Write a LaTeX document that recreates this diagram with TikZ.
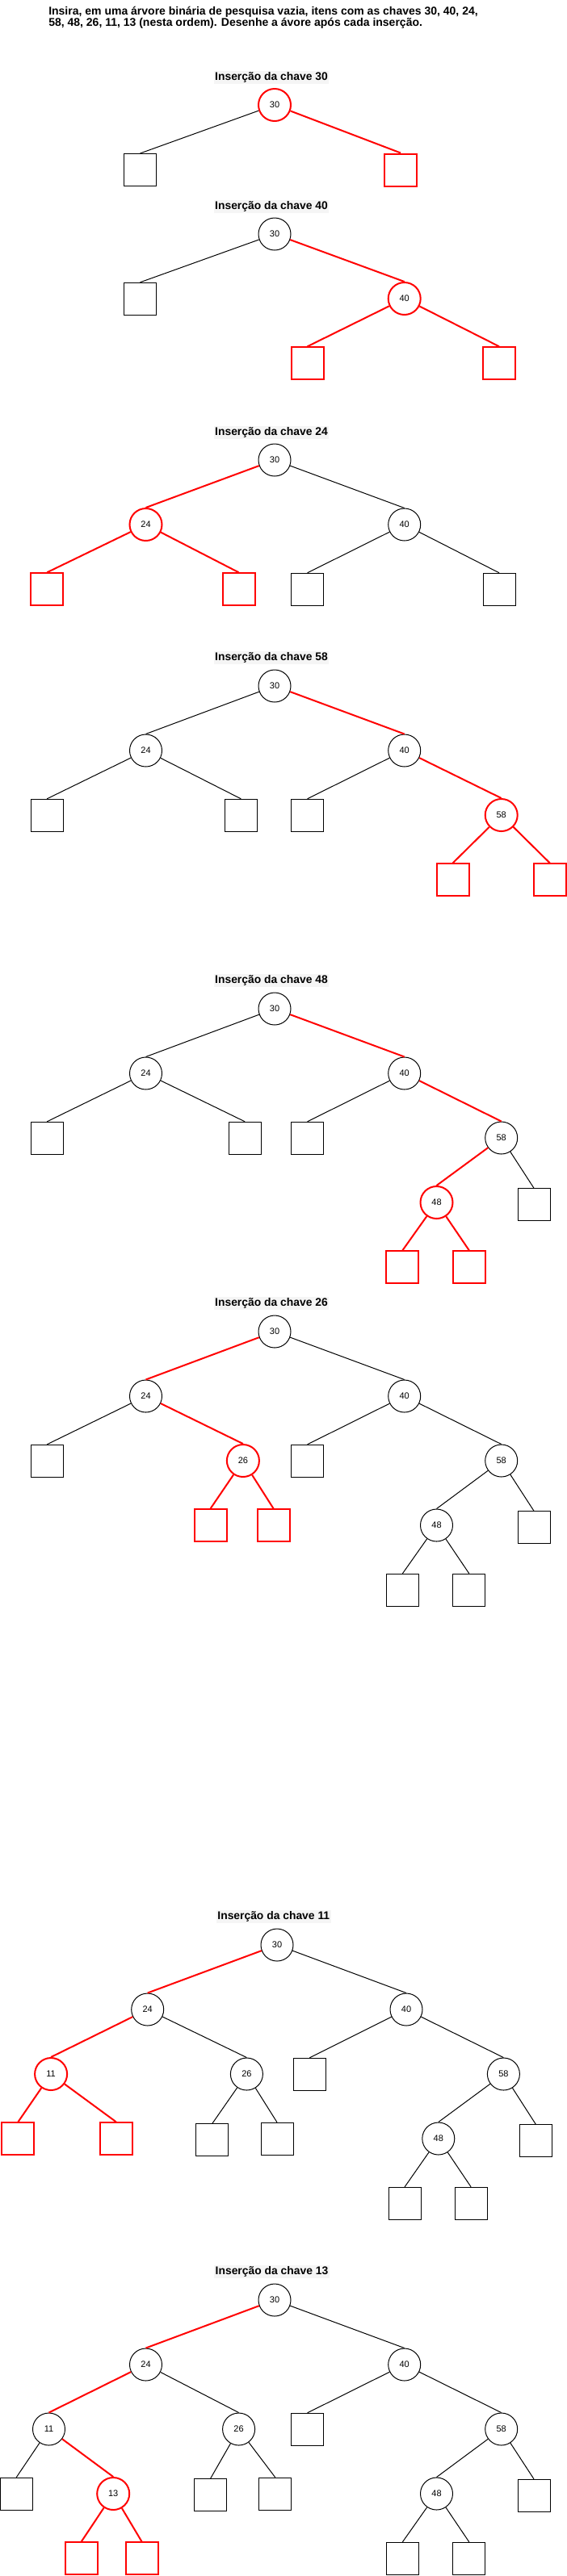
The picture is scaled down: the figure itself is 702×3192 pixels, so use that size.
\documentclass[tikz,border=0pt]{standalone}
\usepackage{fontspec}
\setmainfont{Liberation Sans}
\begin{document}
\begin{tikzpicture}[x=0.75pt,y=-0.75pt,
        chave/.style={circle,draw,line width=0.75pt,minimum size=30pt,inner sep=0pt,font=\fontsize{8.25}{10}\selectfont},
        folha/.style={rectangle,draw,line width=0.75pt,minimum size=30pt,inner sep=0pt},
        novo/.style={draw=red,line width=1.5pt},
        titulo/.style={fill=black!4,inner sep=1pt,font=\bfseries\fontsize{10.4}{12}\selectfont},
        ramo/.style={line width=0.75pt},
        ramonovo/.style={red,line width=1.5pt}]
        \useasboundingbox (0,0) rectangle (702,3192);
        \node[anchor=north west,inner sep=0pt,align=left,font=\bfseries\fontsize{10.5}{10.5}\selectfont] (enunciado) at (60,7.5)
            {Insira, em uma árvore binária de pesquisa vazia, itens com as chaves 30, 40, 24,\\58, 48, 26, 11, 13 (nesta ordem). Desenhe a ávore após cada inserção.};
        % chave 30
        \node[titulo] (tA) at (336,96) {Inserção da chave 30};
        \node[chave,novo] (a30) at (340,130) {30};
        \node[folha] (aL) at (173.5,210.5) {};
        \node[folha,novo] (aR) at (496,210.5) {};
        \draw[ramo] (a30) -- (aL.north);
        \draw[ramonovo] (a30) -- (aR.north);
        % chave 40
        \node[titulo] (tB) at (336,256) {Inserção da chave 40};
        \node[chave] (b30) at (340,290) {30};
        \node[folha] (bL) at (173.5,370.3) {};
        \node[chave,novo] (b40) at (500.7,370) {40};
        \node[folha,novo] (b40L) at (380.6,450.3) {};
        \node[folha,novo] (b40R) at (618,450.3) {};
        \draw[ramo] (b30) -- (bL.north);
        \draw[ramonovo] (b30) -- (b40.north);
        \draw[ramonovo] (b40) -- (b40L.north);
        \draw[ramonovo] (b40) -- (b40R.north);
        % chave 24
        \node[titulo] (tC) at (336,536) {Inserção da chave 24};
        \node[chave] (c30) at (340,570) {30};
        \node[chave,novo] (c24) at (180.5,650) {24};
        \node[chave] (c40) at (500.7,650) {40};
        \node[folha,novo] (c24L) at (58.2,730.3) {};
        \node[folha,novo] (c24R) at (295.6,730.3) {};
        \node[folha] (c40L) at (380.6,730.3) {};
        \node[folha] (c40R) at (618,730.3) {};
        \draw[ramonovo] (c30) -- (c24.north);
        \draw[ramo] (c30) -- (c40.north);
        \draw[ramonovo] (c24) -- (c24L.north);
        \draw[ramonovo] (c24) -- (c24R.north);
        \draw[ramo] (c40) -- (c40L.north);
        \draw[ramo] (c40) -- (c40R.north);
        % chave 58
        \node[titulo] (tD) at (336,815) {Inserção da chave 58};
        \node[chave] (d30) at (340,850) {30};
        \node[chave] (d24) at (180.5,930) {24};
        \node[chave] (d40) at (500.7,930) {40};
        \node[folha] (d24L) at (58.2,1010.3) {};
        \node[folha] (d24R) at (298.3,1010.3) {};
        \node[folha] (d40L) at (380.6,1010.3) {};
        \node[chave,novo] (d58) at (620.7,1010) {58};
        \node[folha,novo] (d58L) at (560.7,1090.3) {};
        \node[folha,novo] (d58R) at (680.7,1090.3) {};
        \draw[ramo] (d30) -- (d24.north);
        \draw[ramonovo] (d30) -- (d40.north);
        \draw[ramo] (d24) -- (d24L.north);
        \draw[ramo] (d24) -- (d24R.north);
        \draw[ramo] (d40) -- (d40L.north);
        \draw[ramonovo] (d40) -- (d58.north);
        \draw[ramonovo] (d58) -- (d58L.north);
        \draw[ramonovo] (d58) -- (d58R.north);
        % chave 48
        \node[titulo] (tE) at (336,1215) {Inserção da chave 48};
        \node[chave] (e30) at (340,1250) {30};
        \node[chave] (e24) at (180.5,1330) {24};
        \node[chave] (e40) at (500.7,1330) {40};
        \node[folha] (e24L) at (58.2,1410.3) {};
        \node[folha] (e24R) at (303.2,1410.3) {};
        \node[folha] (e40L) at (380.6,1410.3) {};
        \node[chave] (e58) at (620.7,1410) {58};
        \node[chave,novo] (e48) at (540.5,1490) {48};
        \node[folha] (e58R) at (661,1492.7) {};
        \node[folha,novo] (e48L) at (498.4,1570.3) {};
        \node[folha,novo] (e48R) at (580.8,1570.3) {};
        \draw[ramo] (e30) -- (e24.north);
        \draw[ramonovo] (e30) -- (e40.north);
        \draw[ramo] (e24) -- (e24L.north);
        \draw[ramo] (e24) -- (e24R.north);
        \draw[ramo] (e40) -- (e40L.north);
        \draw[ramonovo] (e40) -- (e58.north);
        \draw[ramonovo] (e58) -- (e48.north);
        \draw[ramo] (e58) -- (e58R.north);
        \draw[ramonovo] (e48) -- (e48L.north);
        \draw[ramonovo] (e48) -- (e48R.north);
        % chave 26
        \node[titulo] (tF) at (336,1615) {Inserção da chave 26};
        \node[chave] (f30) at (340,1650) {30};
        \node[chave] (f24) at (180.5,1730) {24};
        \node[chave] (f40) at (500.7,1730) {40};
        \node[folha] (f24L) at (58.2,1810.3) {};
        \node[chave,novo] (f26) at (300.9,1810) {26};
        \node[folha] (f40L) at (380.6,1810.3) {};
        \node[chave] (f58) at (620.7,1810) {58};
        \node[folha,novo] (f26L) at (260.6,1890.3) {};
        \node[folha,novo] (f26R) at (338.6,1890.3) {};
        \node[chave] (f48) at (540.5,1890) {48};
        \node[folha] (f58R) at (661,1892.7) {};
        \node[folha] (f48L) at (498.4,1970.3) {};
        \node[folha] (f48R) at (580.8,1970.3) {};
        \draw[ramonovo] (f30) -- (f24.north);
        \draw[ramo] (f30) -- (f40.north);
        \draw[ramo] (f24) -- (f24L.north);
        \draw[ramonovo] (f24) -- (f26.north);
        \draw[ramo] (f40) -- (f40L.north);
        \draw[ramo] (f40) -- (f58.north);
        \draw[ramonovo] (f26) -- (f26L.north);
        \draw[ramonovo] (f26) -- (f26R.north);
        \draw[ramo] (f58) -- (f48.north);
        \draw[ramo] (f58) -- (f58R.north);
        \draw[ramo] (f48) -- (f48L.north);
        \draw[ramo] (f48) -- (f48R.north);
        % chave 11
        \node[titulo] (tG) at (338.8,2375) {Inserção da chave 11};
        \node[chave] (g30) at (343,2410) {30};
        \node[chave] (g24) at (182.7,2490) {24};
        \node[chave] (g40) at (503,2490) {40};
        \node[chave,novo] (g11) at (63.1,2570) {11};
        \node[chave] (g26) at (305.4,2570) {26};
        \node[folha] (g40L) at (383.3,2570.3) {};
        \node[chave] (g58) at (623.4,2570) {58};
        \node[folha,novo] (g11L) at (22.4,2650.3) {};
        \node[folha,novo] (g11R) at (143.8,2650.3) {};
        \node[folha] (g26L) at (262.9,2651.7) {};
        \node[folha] (g26R) at (343,2650.3) {};
        \node[chave] (g48) at (542.8,2650) {48};
        \node[folha] (g58R) at (663.3,2652.7) {};
        \node[folha] (g48L) at (501.1,2730.3) {};
        \node[folha] (g48R) at (583.1,2730.3) {};
        \draw[ramonovo] (g30) -- (g24.north);
        \draw[ramo] (g30) -- (g40.north);
        \draw[ramonovo] (g24) -- (g11.north);
        \draw[ramo] (g24) -- (g26.north);
        \draw[ramo] (g40) -- (g40L.north);
        \draw[ramo] (g40) -- (g58.north);
        \draw[ramonovo] (g11) -- (g11L.north);
        \draw[ramonovo] (g11) -- (g11R.north);
        \draw[ramo] (g26) -- (g26L.north);
        \draw[ramo] (g26) -- (g26R.north);
        \draw[ramo] (g58) -- (g48.north);
        \draw[ramo] (g58) -- (g58R.north);
        \draw[ramo] (g48) -- (g48L.north);
        \draw[ramo] (g48) -- (g48R.north);
        % chave 13
        \node[titulo] (tH) at (336.5,2815) {Inserção da chave 13};
        \node[chave] (h30) at (340,2850) {30};
        \node[chave] (h24) at (180.5,2930) {24};
        \node[chave] (h40) at (500.7,2930) {40};
        \node[chave] (h11) at (60.5,3010) {11};
        \node[chave] (h26) at (295.6,3010) {26};
        \node[folha] (h40L) at (380.6,3010.3) {};
        \node[chave] (h58) at (620.7,3010) {58};
        \node[folha] (h11L) at (20.2,3090.3) {};
        \node[chave,novo] (h13) at (140.2,3090) {13};
        \node[folha] (h26L) at (260.6,3091.7) {};
        \node[folha] (h26R) at (340.8,3090.3) {};
        \node[chave] (h48) at (540.5,3090) {48};
        \node[folha] (h58R) at (661,3092.3) {};
        \node[folha,novo] (h13L) at (100.8,3170.3) {};
        \node[folha,novo] (h13R) at (175.5,3170.3) {};
        \node[folha] (h48L) at (498.4,3170.3) {};
        \node[folha] (h48R) at (580.8,3170.3) {};
        \draw[ramonovo] (h30) -- (h24.north);
        \draw[ramo] (h30) -- (h40.north);
        \draw[ramonovo] (h24) -- (h11.north);
        \draw[ramo] (h24) -- (h26.north);
        \draw[ramo] (h40) -- (h40L.north);
        \draw[ramo] (h40) -- (h58.north);
        \draw[ramo] (h11) -- (h11L.north);
        \draw[ramonovo] (h11) -- (h13.north);
        \draw[ramo] (h26) -- (h26L.north);
        \draw[ramo] (h26) -- (h26R.north);
        \draw[ramo] (h58) -- (h48.north);
        \draw[ramo] (h58) -- (h58R.north);
        \draw[ramonovo] (h13) -- (h13L.north);
        \draw[ramonovo] (h13) -- (h13R.north);
        \draw[ramo] (h48) -- (h48L.north);
        \draw[ramo] (h48) -- (h48R.north);
\end{tikzpicture}
\end{document}
